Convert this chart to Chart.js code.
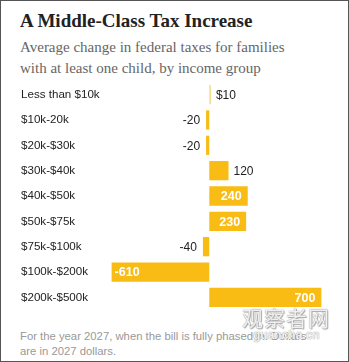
<!DOCTYPE html>
<html>
<head>
<meta charset="utf-8">
<script src="https://cdn.jsdelivr.net/npm/chart.js"></script>
<style>
  html, body { margin: 0; padding: 0; background: #fff; }
  #frame { position: relative; width: 349px; height: 362px; box-sizing: border-box; border: 1px solid #555; overflow: hidden; }
  #title { position: absolute; left: 19px; top: 9px; font: bold 19px "Liberation Serif", "DejaVu Serif", serif; color: #222; white-space: nowrap; }
  #sub { position: absolute; left: 19px; top: 36px; font: 15px "Liberation Serif", "DejaVu Serif", serif; color: #666; line-height: 21px; }
  #chartBox { position: absolute; left: 0; top: 74px; width: 349px; height: 242px; }
  #note { position: absolute; left: 19px; top: 328px; font: 11.3px "Liberation Sans", Arial, sans-serif; color: #999; line-height: 15px; white-space: nowrap; }
  #mark { position: absolute; left: 241px; top: 301px; font: 21px "Noto Sans CJK SC", sans-serif; color: rgba(255,255,255,0.85); white-space: nowrap; letter-spacing: 1px;
          text-shadow: 0 0 1px #999, 0 0 1px #999, 1px 1px 1px #aaa; }
  #mark2 { position: absolute; left: 252px; top: 327px; font: bold 12px "Liberation Sans", sans-serif; color: rgba(255,255,255,0.85); white-space: nowrap;
           text-shadow: 0 0 1px #999, 0 0 1px #999; }
</style>
</head>
<body>
<div id="frame">
  <div id="title">A Middle-Class Tax Increase</div>
  <div id="sub">Average change in federal taxes for families<br>with at least one child, by income group</div>
  <div id="chartBox"><canvas id="myChart"></canvas></div>
  <div id="note">For the year 2027, when the bill is fully phased in. Dollars<br>are in 2027 dollars.</div>
  <div id="mark">观察者网</div>
  <div id="mark2">guancha.cn</div>
</div>
<script>
// income groups and average tax change (dollars)
const groups = ['Less than $10k', '$10k-20k', '$20k-$30k', '$30k-$40k', '$40k-$50k', '$50k-$75k', '$75k-$100k', '$100k-$200k', '$200k-$500k'];
const taxChange = [10, -20, -20, 120, 240, 230, -40, -610, 700];
const valueLabels = ['$10', '-20', '-20', '120', '240', '230', '-40', '-610', '700'];

const gold = '#f9bc15';

// value labels: inside the bar when it is wide enough, outside otherwise
const barLabels = {
  id: 'barLabels',
  afterDatasetsDraw(chart) {
    const c = chart.ctx;
    const meta = chart.getDatasetMeta(0);
    c.save();
    c.textBaseline = 'middle';
    meta.data.forEach((bar, i) => {
      const v = taxChange[i];
      const w = Math.abs(bar.x - bar.base);
      const inside = w > 30;
      if (inside) {
        c.font = 'bold 12.5px "Liberation Sans", Arial, sans-serif';
        c.fillStyle = '#fff';
        if (v > 0) { c.textAlign = 'right'; c.fillText(valueLabels[i], bar.x - 6, bar.y + 1); }
        else { c.textAlign = 'left'; c.fillText(valueLabels[i], bar.x + 3, bar.y + 1); }
      } else {
        c.font = '12px "Liberation Sans", Arial, sans-serif';
        c.fillStyle = '#222';
        if (v > 0) { c.textAlign = 'left'; c.fillText(valueLabels[i], bar.x + 5, bar.y + 1); }
        else { c.textAlign = 'right'; c.fillText(valueLabels[i], bar.x - 6, bar.y + 1); }
      }
    });
    c.restore();
  }
};

new Chart(document.getElementById('myChart'), {
  type: 'bar',
  data: {
    labels: groups,
    datasets: [{
      data: taxChange,
      backgroundColor: taxChange.map(v => Math.abs(v) < 15 ? '#f6dc8c' : gold),
      categoryPercentage: 1,
      barPercentage: 0.76,
      borderWidth: 0
    }]
  },
  options: {
    indexAxis: 'y',
    responsive: true,
    maintainAspectRatio: false,
    animation: false,
    layout: { padding: { left: 20, right: 19, top: 0, bottom: 0 } },
    plugins: { legend: { display: false }, tooltip: { enabled: false } },
    scales: {
      x: { display: false, min: -620, max: 760 },
      y: {
        grid: { display: false },
        border: { display: false },
        afterFit(scale) { scale.width = 89; },
        ticks: {
          crossAlign: 'far',
          padding: 0,
          color: '#222',
          font: { size: 11.6, family: '"Liberation Sans", Arial, sans-serif' }
        }
      }
    }
  },
  plugins: [barLabels]
});
</script>
</body>
</html>
